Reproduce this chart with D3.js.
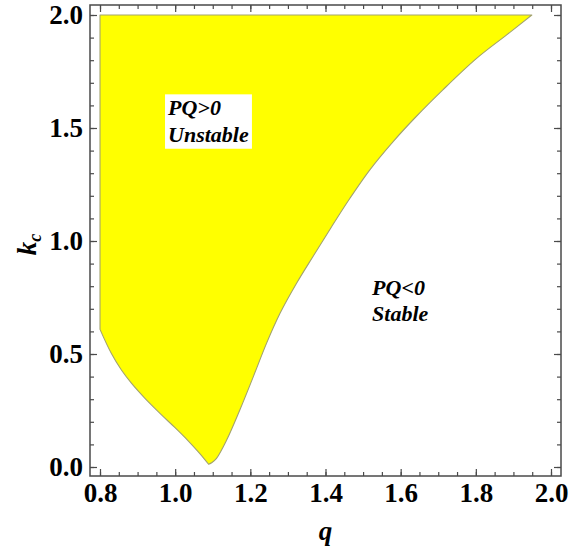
<!DOCTYPE html>
<html>
<head>
<meta charset="utf-8">
<script src="https://cdn.jsdelivr.net/npm/d3@7"></script>
<style>
  html, body { margin: 0; padding: 0; background: #fff; }
  svg { display: block; }
</style>
</head>
<body>
<svg id="chart" width="569" height="551"></svg>
<script>
// Stability region boundary in the (q, k_c) plane
const qMin = 0.8, qMax = 2.0, kMin = 0.0, kMax = 2.0;

// lower-left branch: from the left edge down to the cusp
const leftQ = [0.800, 0.830, 0.857, 0.883, 0.919, 0.963, 0.999, 1.034, 1.061, 1.079, 1.089];
const leftK = [0.609, 0.503, 0.429, 0.372, 0.305, 0.232, 0.175, 0.117, 0.068, 0.033, 0.012];

// right branch: from the cusp up to the top edge
const rightQ = [1.089, 1.098, 1.110, 1.137, 1.172, 1.208, 1.243, 1.279, 1.323, 1.368, 1.415, 1.465, 1.518, 1.580, 1.642, 1.713, 1.802, 1.882, 1.949];
const rightK = [0.012, 0.020, 0.038, 0.119, 0.252, 0.400, 0.547, 0.680, 0.813, 0.935, 1.060, 1.189, 1.315, 1.440, 1.552, 1.670, 1.808, 1.912, 2.000];

// ticks
const xMajor = [0.8, 1.0, 1.2, 1.4, 1.6, 1.8, 2.0];
const xMinor = d3.range(0, 25).map(i => +(0.8 + i * 0.05).toFixed(2));
const yMajor = [0.0, 0.5, 1.0, 1.5, 2.0];
const yMinor = d3.range(0, 21).map(i => +(i * 0.1).toFixed(1));

// region labels
const labelLines = [["PQ>0", "Unstable"], ["PQ<0", "Stable"]];
const labelQ = [0.981, 1.524];
const labelK = [1.556, 0.763];
const labelBoxed = [true, false];

const svg = d3.select("#chart");
const frame = { left: 90, right: 561, top: 5, bottom: 476 };

const x = d3.scaleLinear().domain([qMin, qMax]).range([100, 551]);
const y = d3.scaleLinear().domain([kMin, kMax]).range([467, 15]);

const serif = '"Liberation Serif", Tinos, "Times New Roman", "DejaVu Serif", serif';
const frameColor = "#4a4a4a";

// filled unstable region
const curve = d3.line().x(d => x(d[0])).y(d => y(d[1])).curve(d3.curveCatmullRom.alpha(0.5));
const leftPts = leftQ.map((q, i) => [q, leftK[i]]);
const rightPts = rightQ.map((q, i) => [q, rightK[i]]);
const pathD = `M${x(qMin)},${y(kMax)}` +
  curve(leftPts).replace(/^M/, "L") +
  curve(rightPts).replace(/^M/, "L") + "Z";

svg.append("path")
  .attr("d", pathD)
  .attr("fill", "#ffff00")
  .attr("stroke", "#a3a36e")
  .attr("stroke-width", 1.1)
  .attr("stroke-linejoin", "round");

// region labels
labelLines.forEach((lines, i) => {
  const g = svg.append("g");
  const t = g.append("text")
    .attr("x", x(labelQ[i]))
    .attr("y", y(labelK[i]))
    .style("font-family", serif)
    .style("font-size", "22px")
    .style("font-weight", "bold")
    .style("font-style", "italic")
    .attr("fill", "#000");
  lines.forEach((s, j) => {
    t.append("tspan").attr("x", x(labelQ[i])).attr("dy", j === 0 ? 0 : "1.2em").text(s);
  });
  if (labelBoxed[i]) {
    const bb = t.node().getBBox();
    g.insert("rect", "text")
      .attr("x", bb.x - 2)
      .attr("y", bb.y - 1)
      .attr("width", bb.width + 5)
      .attr("height", bb.height + 3)
      .attr("fill", "#fff");
  }
});

// axes with inward ticks on all four sides
function styleAxis(g) {
  g.attr("font-family", null).attr("font-size", null);
  g.select(".domain").remove();
  g.selectAll(".tick line").attr("stroke", frameColor).attr("stroke-width", 1.2);
  g.selectAll("text")
    .style("font-family", serif)
    .style("font-size", "27px")
    .style("font-weight", "bold")
    .attr("fill", "#000");
}
const fmt = d3.format(".1f");

// bottom
svg.append("g").attr("transform", `translate(0,${frame.bottom})`)
  .call(d3.axisBottom(x).tickValues(xMinor).tickSize(-4).tickFormat(""))
  .call(styleAxis);
svg.append("g").attr("transform", `translate(0,${frame.bottom})`)
  .call(d3.axisBottom(x).tickValues(xMajor).tickSize(-7).tickPadding(7).tickFormat(fmt))
  .call(styleAxis);
// top
svg.append("g").attr("transform", `translate(0,${frame.top})`)
  .call(d3.axisTop(x).tickValues(xMinor).tickSize(-4).tickFormat(""))
  .call(styleAxis);
svg.append("g").attr("transform", `translate(0,${frame.top})`)
  .call(d3.axisTop(x).tickValues(xMajor).tickSize(-7).tickFormat(""))
  .call(styleAxis);
// left
svg.append("g").attr("transform", `translate(${frame.left},0)`)
  .call(d3.axisLeft(y).tickValues(yMinor).tickSize(-4).tickFormat(""))
  .call(styleAxis);
svg.append("g").attr("transform", `translate(${frame.left},0)`)
  .call(d3.axisLeft(y).tickValues(yMajor).tickSize(-7).tickPadding(7).tickFormat(fmt))
  .call(styleAxis);
// right
svg.append("g").attr("transform", `translate(${frame.right},0)`)
  .call(d3.axisRight(y).tickValues(yMinor).tickSize(-4).tickFormat(""))
  .call(styleAxis);
svg.append("g").attr("transform", `translate(${frame.right},0)`)
  .call(d3.axisRight(y).tickValues(yMajor).tickSize(-7).tickFormat(""))
  .call(styleAxis);

// frame
svg.append("rect")
  .attr("x", frame.left).attr("y", frame.top)
  .attr("width", frame.right - frame.left)
  .attr("height", frame.bottom - frame.top)
  .attr("fill", "none")
  .attr("stroke", frameColor)
  .attr("stroke-width", 1.5);

// axis titles
svg.append("text")
  .attr("x", (frame.left + frame.right) / 2)
  .attr("y", 540)
  .attr("text-anchor", "middle")
  .style("font-family", serif)
  .style("font-size", "27px")
  .style("font-weight", "bold")
  .style("font-style", "italic")
  .text("q");

const yt = svg.append("text")
  .attr("transform", `translate(36,${(frame.top + frame.bottom) / 2 + 4}) rotate(-90)`)
  .attr("text-anchor", "middle")
  .style("font-family", serif)
  .style("font-size", "27px")
  .style("font-weight", "bold")
  .style("font-style", "italic");
yt.append("tspan").text("k");
yt.append("tspan").style("font-size", "18px").attr("dy", 5).text("c");
</script>
</body>
</html>
